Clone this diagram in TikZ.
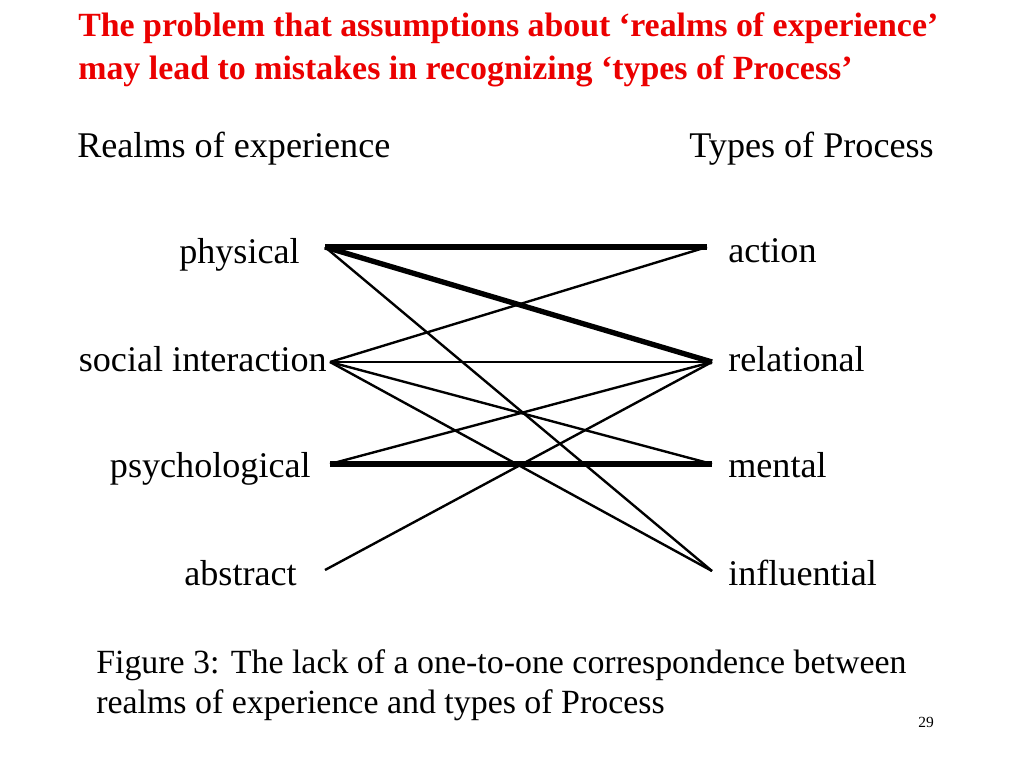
\documentclass[tikz,border=0pt]{standalone}
\usepackage{fontspec}
\setmainfont{Liberation Serif}
\usepackage{xcolor}
\usetikzlibrary{arrows.meta}
\definecolor{titlered}{RGB}{235,0,0}

\begin{document}
\begin{tikzpicture}[x=0.025cm,y=-0.025cm,inner sep=0pt,
  lbl/.style={font=\fontsize{25.7}{30}\selectfont},
  ttl/.style={font=\bfseries\fontsize{24.1}{30}\selectfont,text=titlered,anchor=base west},
  captext/.style={font=\fontsize{24.1}{30}\selectfont,anchor=base west},
  thin link/.style={line width=1.7pt},
  thick link/.style={line width=3.8pt}]
\useasboundingbox (0,0) rectangle (1024,768);
% title
\node[ttl] (t1) at (78,37) {The problem that assumptions about `realms of experience'};
\node[ttl] (t2) at (78,80) {may lead to mistakes in recognizing `types of Process'};
% headings
\node[lbl,anchor=base west] (realms) at (77,157) {Realms of experience};
\node[lbl,anchor=base east] (types) at (934,157) {Types of Process};
% left column
\node[lbl,anchor=base east] (lphys) at (300,263) {physical};
\node[lbl,anchor=base east] (lsoc) at (327,371) {social interaction};
\node[lbl,anchor=base east] (lpsy) at (311,477) {psychological};
\node[lbl,anchor=base east] (labs) at (297,585) {abstract};
% right column
\node[lbl,anchor=base west] (ract) at (728,262) {action};
\node[lbl,anchor=base west] (rrel) at (728,371) {relational};
\node[lbl,anchor=base west] (rmen) at (728,477) {mental};
\node[lbl,anchor=base west] (rinf) at (728,585) {influential};
% line ends
\coordinate (phys) at (325,247);
\coordinate (soc) at (330,362);
\coordinate (psy) at (330,464);
\coordinate (abs) at (325,570);
\coordinate (act) at (707,247);
\coordinate (rel) at (712,362);
\coordinate (men) at (712,464);
\coordinate (inf) at (712,571);
% links
\draw[thick link] (phys)--(act);
\draw[thick link] (phys)--(rel);
\draw[thick link] (psy)--(men);
\draw[thin link] (phys)--(inf);
\draw[thin link] (soc)--(act);
\draw[thin link] (soc)--(rel);
\draw[thin link] (soc)--(men);
\draw[thin link] (soc)--(inf);
\draw[thin link] (psy)--(rel);
\draw[thin link] (abs)--(rel);
% caption
\node[captext] (cap1) at (96,673) {Figure 3: The lack of a one-to-one correspondence between};
\node[captext] (cap2) at (96,713) {realms of experience and types of Process};
\node[anchor=base east,font=\fontsize{11}{13}\selectfont] (page) at (934,727) {29};
\end{tikzpicture}
\end{document}
